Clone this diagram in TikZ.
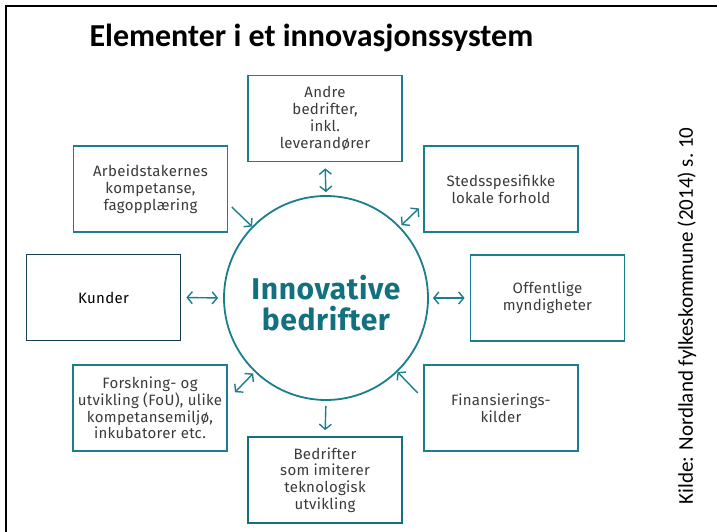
\documentclass[tikz,border=0pt]{standalone}
\usepackage{fontspec}
\usetikzlibrary{arrows.meta,calc}
\setmainfont{Carlito}
\newfontfamily\boksfont{Fira Sans}[LetterSpace=2]
\definecolor{petrol}{HTML}{1B7E8C}
\definecolor{petrolmork}{HTML}{13707E}
\definecolor{kantmork}{HTML}{173F49}
\definecolor{tekstgraa}{HTML}{3A3A3A}

\begin{document}
\begin{tikzpicture}[x=1pt,y=1pt,
        boks/.style={draw=petrol, line width=1.8pt, minimum width=154pt, minimum height=86pt,
            inner sep=0pt, align=center, text=tekstgraa, font=\boksfont\fontsize{15}{16.8}\selectfont},
        pil/.style={draw=petrol, line width=1.4pt, >={Straight Barb[length=5pt,width=12pt]}}]
    \useasboundingbox (0,0) rectangle (717,532);
    % ramme oppe og til venstre
    \draw[line width=2.5pt] (6,0) -- (6,526) -- (717,526);

    \node[anchor=base west, font=\bfseries\fontsize{32}{33}\selectfont] (tittel) at (86,485) {Elementer i et innovasjonssystem};
    \node[rotate=90, font=\fontsize{21}{22}\selectfont] (kilde) at (687,216) {Kilde: Nordland fylkeskommune (2014) s.~10};

    % sirkelen i midten
    \node[circle, draw=petrol, line width=1.8pt, minimum size=204pt, inner sep=0pt] (sirkel) at (326,234) {};
    \node[align=center, text=petrolmork, font=\boksfont\bfseries\fontsize{30}{31}\selectfont, yshift=-5pt]
        (sirkeltekst) at (sirkel.center) {Innovative\\bedrifter};

    % boksene rundt
    \node[boks] (andre) at (325,413.5) {Andre\\bedrifter,\\inkl.\\leverandører};
    \node[boks] (arbeid) at (150.5,343) {Arbeidstakernes\\kompetanse,\\fagopplæring};
    \node[boks, draw=kantmork, text=black] (kunder) at (103.5,234.5) {Kunder};
    \node[boks] (steds) at (501,343) {Stedsspesifikke\\lokale forhold};
    \node[boks] (offentlige) at (547.5,234) {Offentlige\\myndigheter};
    \node[boks] (forskning) at (150,124) {Forskning- og\\utvikling (FoU), ulike\\kompetansemiljø,\\inkubatorer etc.};
    \node[boks, draw=petrolmork] (imiterer) at (325,52) {Bedrifter\\som imiterer\\teknologisk\\utvikling};
    \node[boks] (finans) at (501,124) {Finansierings-\\kilder};

    % pilene
    \coordinate (arbeidpil) at ($(sirkel.center)+(136:131)$);
    \coordinate (stedspil) at ($(sirkel.center)+(44:129)$);
    \coordinate (forskpil) at ($(sirkel.center)+(226:131)$);
    \coordinate (finanspil) at ($(sirkel.center)+(-46:132)$);
    \draw[pil, <->, shorten <=6pt, shorten >=3pt] (andre.south) -- (sirkel.north);
    \draw[pil, ->, shorten <=5pt, shorten >=6pt] (sirkel.south) -- (imiterer.north);
    \draw[pil, <->, shorten <=5pt, shorten >=5pt] (kunder.east) -- (sirkel.west);
    \draw[pil, <->, shorten <=4pt, shorten >=5pt] (sirkel.east) -- (offentlige.west);
    \draw[pil, ->] (arbeidpil) -- (sirkel.136);
    \draw[pil, ->] (finanspil) -- (sirkel.-46);
    \draw[pil, <->, shorten <=2pt] (sirkel.44) -- (stedspil);
    \draw[pil, <->, shorten <=2pt] (sirkel.226) -- (forskpil);
\end{tikzpicture}
\end{document}
